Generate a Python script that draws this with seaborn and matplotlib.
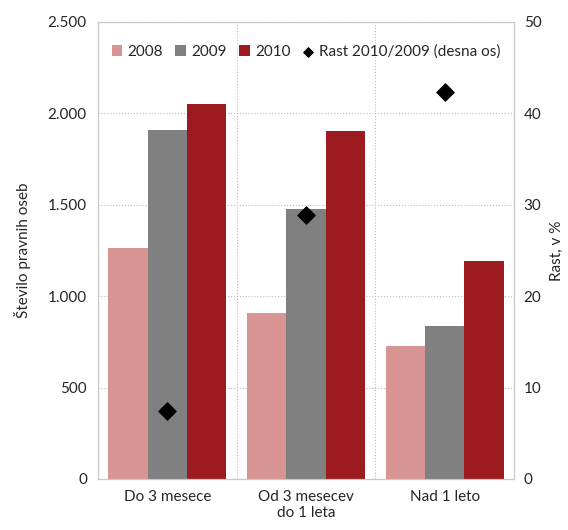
import numpy as np
import pandas as pd
import matplotlib
matplotlib.use("Agg")
import matplotlib.pyplot as plt
import seaborn as sns

# podatki
kategorije = ["Do 3 mesece", "Od 3 mesecev\ndo 1 leta", "Nad 1 leto"]
leta = ["2008", "2009", "2010"]
v2008 = [1263, 907, 727]
v2009 = [1908, 1476, 836]
v2010 = [2050, 1902, 1190]
rast = [7.4, 28.9, 42.3]  # rast 2010/2009, v %

barve = ["#D99594", "#808080", "#9B1B20"]

df = pd.DataFrame({
    "kategorija": kategorije * 3,
    "leto": np.repeat(leta, 3),
    "vrednost": v2008 + v2009 + v2010,
})
df_rast = pd.DataFrame({"kategorija": kategorije, "rast": rast})

sns.set_style("white")
plt.rcParams["font.family"] = ["Lato", "DejaVu Sans"]

fig = plt.figure(figsize=(5.68, 5.30), dpi=100)
ax = fig.add_axes([98 / 568, 1 - 479 / 530, 416 / 568, 457.3 / 530])

sns.barplot(data=df, x="kategorija", y="vrednost", hue="leto", palette=barve,
            width=0.85, saturation=1, linewidth=0, ax=ax, legend=True)

ax.set_ylim(0, 2500)
ax.set_xlim(-0.5, 2.5)
ax.set_yticks([0, 500, 1000, 1500, 2000, 2500])
ax.set_yticklabels(["0", "500", "1.000", "1.500", "2.000", "2.500"])
ax.set_xlabel("")
ax.set_ylabel("Število pravnih oseb", fontsize=11, labelpad=12)
ax.set_xticks([0.5, 1.5], minor=True)
ax.grid(True, axis="y", which="major", linestyle=":", color="#bbbbbb", lw=0.8)
ax.grid(True, axis="x", which="minor", linestyle=":", color="#bbbbbb", lw=0.8)
ax.grid(False, axis="x", which="major")
ax.set_axisbelow(True)
ax.tick_params(axis="both", which="both", length=0, labelsize=11, pad=8)
for s in ax.spines.values():
    s.set_color("#c8c8c8")

# desna os - rast
ax2 = ax.twinx()
sns.scatterplot(data=df_rast, x="kategorija", y="rast", marker="D", s=80,
                color="black", edgecolor="black", ax=ax2,
                label="Rast 2010/2009 (desna os)")
ax2.set_ylim(0, 50)
ax2.set_yticks([0, 10, 20, 30, 40, 50])
ax2.set_ylabel("Rast, v %", fontsize=11, labelpad=6)
ax2.tick_params(axis="y", length=0, labelsize=11, pad=7)
for s in ax2.spines.values():
    s.set_color("#c8c8c8")
ax2.grid(False)

h1, l1 = ax.get_legend_handles_labels()
h2, l2 = ax2.get_legend_handles_labels()
ax.get_legend().remove()
ax2.get_legend().remove()
leg = ax2.legend(h1 + h2, l1 + l2, loc="upper center", bbox_to_anchor=(0.5, 0.98),
                 ncol=4, frameon=False, fontsize=11, handlelength=0.7,
                 handleheight=0.7, handletextpad=0.35, columnspacing=0.8,
                 markerscale=0.55)

fig.savefig("out.png", dpi=100)
